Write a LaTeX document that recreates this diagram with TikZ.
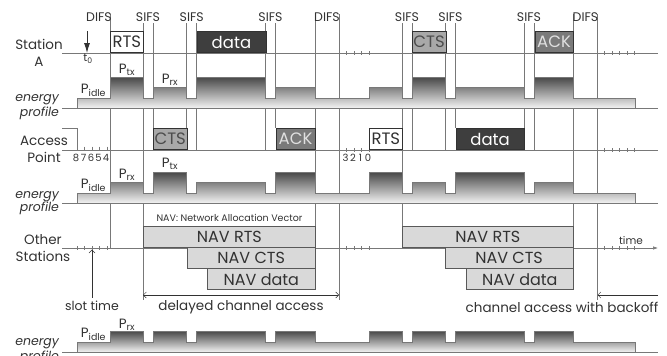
\documentclass[tikz,border=0pt]{standalone}
\usepackage{fontspec}
\setmainfont{Poppins}
\usetikzlibrary{arrows.meta}
\definecolor{ink}{RGB}{50,50,50}
\definecolor{rulec}{RGB}{120,120,120}
\definecolor{ctsc}{RGB}{168,168,168}
\definecolor{ackc}{RGB}{122,122,122}
\definecolor{datac}{RGB}{62,62,62}
\definecolor{navc}{RGB}{217,217,217}
\newcommand{\fs}[1]{\fontsize{#1}{#1}\selectfont}
\newcommand{\pw}[1]{P\textsubscript{#1}}
\newcommand{\lvidle}{-10}
\newcommand{\lvrx}{-21}
\newcommand{\lvtx}{-31}

\begin{document}
\begin{tikzpicture}[x=1pt, y=-1pt,
    lbl/.style={text=ink, font=\fs{12.5}},
    who/.style={text=ink, align=center, font=\fontsize{13.5}{17}\selectfont},
    epr/.style={text=ink, align=right, anchor=east, font=\fontsize{12.5}{15}\selectfont\itshape},
    pwr/.style={text=ink, anchor=south, inner sep=0.5pt, font=\fs{13.5}},
    cnt/.style={text=ink, inner sep=0pt, font=\fs{10}},
    pkt/.style={draw=ink, line width=0.7pt, anchor=south west, minimum height=21pt,
      inner sep=0pt, text=ink, font=\fs{16.5}},
    rtsbox/.style={pkt, fill=white},
    ctsbox/.style={pkt, fill=ctsc, text=black!70},
    ackbox/.style={pkt, fill=ackc, text=black!12},
    databox/.style={pkt, fill=datac, text=white},
    nav/.style={pkt, fill=navc, draw=black!65, font=\fs{16}},
    tline/.style={draw=rulec, line width=0.6pt},
    vline/.style={draw=rulec, line width=0.7pt},
    tk/.style={draw=rulec, line width=0.5pt},
    energy/.style={draw=rulec, line width=0.6pt, top color=black!72, bottom color=black!5},
    barb/.style={-{Straight Barb[length=3pt,width=6pt]}, ink, line width=0.5pt},
    barbs/.style={{Straight Barb[length=3pt,width=6pt]}-{Straight Barb[length=3pt,width=6pt]},
      ink, line width=0.5pt}]
  \useasboundingbox (0,0) rectangle (667,356);

  % slot boundaries
  \foreach \x/\a/\b in {110/14/248, 143/23/300, 153/23/128, 186.7/23/128, 196.7/23/150,
      265.5/23/150, 275.5/23/128, 315/14/227, 339/14/300, 402/23/227, 412/23/150,
      445.5/23/150, 455.5/23/128, 524/23/128, 534.5/23/150, 573/14/227, 597.5/14/300}
    \draw[vline] (\x,\a) -- (\x,\b);

  % time lines
  \draw[tline] (62,53) -- (658,53);
  \draw[tline] (62,150) -- (658,150);
  \draw[tline, -{Latex[length=5pt,width=3.5pt]}] (62,248) -- (658,248);
  \draw[tline] (62,128) -| (77,150);
  \foreach \y in {53,150,248}
    \foreach \x in {346.5,354,361.5,369,604.5,612,619.5,627,634.5}
      \draw[tk] (\x,\y-2) -- (\x,\y+2);
  \foreach \x in {84.5,92,99.5,107}
    \draw[tk] (\x,146.5) -- (\x,150);
  \foreach \x in {77,84.5,92,99.5,107}
    \draw[tk] (\x,246) -- (\x,250);
  \foreach \n/\x in {8/76,7/83.5,6/91,5/98.5,4/106,3/345.5,2/353,1/360.5,0/368}
    \node[cnt] (c\n) at (\x,157.5) {\n};

  % energy profiles
  \begin{scope}[shift={(0,108)}]
    \shade[energy] (77,0) |- (110,\lvidle) |- (143,\lvtx) |- (153,\lvidle) |- (186.7,\lvrx)
      |- (196.7,\lvidle) |- (265.5,\lvtx) |- (275.5,\lvidle) |- (315,\lvrx) |- (369,\lvidle)
      |- (402,\lvrx) |- (412,\lvidle) |- (445.5,\lvtx) |- (455.5,\lvidle) |- (524,\lvrx)
      |- (534.5,\lvidle) |- (573,\lvtx) |- (635,\lvidle) -- (635,0) -- cycle;
    \draw[tline] (62,0) -- (658,0);
  \end{scope}
  \begin{scope}[shift={(0,203)}]
    \shade[energy] (77,0) |- (110,\lvidle) |- (143,\lvrx) |- (153,\lvidle) |- (186.7,\lvtx)
      |- (196.7,\lvidle) |- (265.5,\lvrx) |- (275.5,\lvidle) |- (315,\lvtx) |- (369,\lvidle)
      |- (402,\lvtx) |- (412,\lvidle) |- (445.5,\lvrx) |- (455.5,\lvidle) |- (524,\lvtx)
      |- (534.5,\lvidle) |- (573,\lvrx) |- (635,\lvidle) -- (635,0) -- cycle;
    \draw[tline] (62,0) -- (658,0);
  \end{scope}
  \begin{scope}[shift={(0,352)}]
    \shade[energy] (77,0) |- (110,\lvidle) |- (143,\lvrx) |- (153,\lvidle) |- (186.7,\lvrx)
      |- (196.7,\lvidle) |- (265.5,\lvrx) |- (275.5,\lvidle) |- (315,\lvrx) |- (369,\lvidle)
      |- (402,\lvrx) |- (412,\lvidle) |- (445.5,\lvrx) |- (455.5,\lvidle) |- (524,\lvrx)
      |- (534.5,\lvidle) |- (573,\lvrx) |- (635,\lvidle) -- (635,0) -- cycle;
    \draw[tline] (62,0) -- (658,0);
  \end{scope}

  % frames
  \node[rtsbox, minimum width=33pt] (rtsA) at (110,53) {RTS};
  \node[databox, minimum width=68.8pt] (dataA) at (196.7,53) {data};
  \node[ctsbox, minimum width=33.5pt] (ctsA) at (412,53) {CTS};
  \node[ackbox, minimum width=38.5pt] (ackA) at (534.5,53) {ACK};
  \node[ctsbox, minimum width=33.7pt] (ctsAP) at (153,150) {CTS};
  \node[ackbox, minimum width=39.5pt] (ackAP) at (275.5,150) {ACK};
  \node[rtsbox, minimum width=33pt] (rtsAP) at (369,150) {RTS};
  \node[databox, minimum width=68.5pt] (dataAP) at (455.5,150) {data};

  \node[text=ink, font=\fs{9.5}] (navhead) at (229.5,218) {NAV: Network Allocation Vector};
  \node[nav, minimum width=172pt] (navrts1) at (143,248) {NAV RTS};
  \node[nav, minimum width=128.3pt] (navcts1) at (186.7,269) {NAV CTS};
  \node[nav, minimum width=108pt] (navdat1) at (207,290) {NAV data};
  \node[nav, minimum width=171pt] (navrts2) at (402,248) {NAV RTS};
  \node[nav, minimum width=128.5pt] (navcts2) at (444.5,269) {NAV CTS};
  \node[nav, minimum width=107pt] (navdat2) at (466,290) {NAV data};

  % labels
  \foreach \x [count=\i] in {99,327,585.5}
    \node[lbl] (difs\i) at (\x,17) {DIFS};
  \foreach \x [count=\i] in {148,191.7,270.5,407,450.5,529}
    \node[lbl] (sifs\i) at (\x,17) {SIFS};
  \node[who] (staA) at (39,53) {Station\\A};
  \node[who] (ap) at (44,149.5) {Access\\Point};
  \node[who] (others) at (43,248) {Other\\Stations};
  \node[epr] (eA) at (62.5,107) {energy\\profile};
  \node[epr, font=\fontsize{12.5}{13}\selectfont\itshape] (eAP) at (62.5,203) {energy\\profile};
  \node[epr] (eO) at (62.5,351) {energy\\profile};

  \node[pwr] (pidleA) at (93.5,97) {\pw{idle}};
  \node[pwr] (ptxA) at (127,76) {\pw{tx}};
  \node[pwr] (prxA) at (170,86) {\pw{rx}};
  \node[pwr] (pidleAP) at (93.5,192) {\pw{idle}};
  \node[pwr] (prxAP) at (127,181) {\pw{rx}};
  \node[pwr] (ptxAP) at (170,170) {\pw{tx}};
  \node[pwr] (pidleO) at (93.5,341) {\pw{idle}};
  \node[pwr] (prxO) at (127,331) {\pw{rx}};

  \coordinate (t0) at (87,53);
  \draw[-{Latex[length=10pt,width=6pt]}, ink, line width=0.9pt] (87,31) -- (t0);
  \node[cnt, font=\fs{11}] (t0lbl) at (88,59) {t\textsubscript{0}};
  \node[text=ink, font=\fs{10.5}] (timelbl) at (631,241) {time};

  \node[lbl, font=\fs{12.5}] (slot) at (92,306) {slot time};
  \draw[barb] (slot.north) -- ++(0,-48);
  \draw[barbs] (143,295) -- (339,295);
  \node[lbl, font=\fs{13.5}] (delay) at (241,307) {delayed channel access};
  \draw[barb] (658,295) -- (597.5,295);
  \node[lbl, font=\fs{13.5}] (backoff) at (562,307) {channel access with backoff};
\end{tikzpicture}
\end{document}
